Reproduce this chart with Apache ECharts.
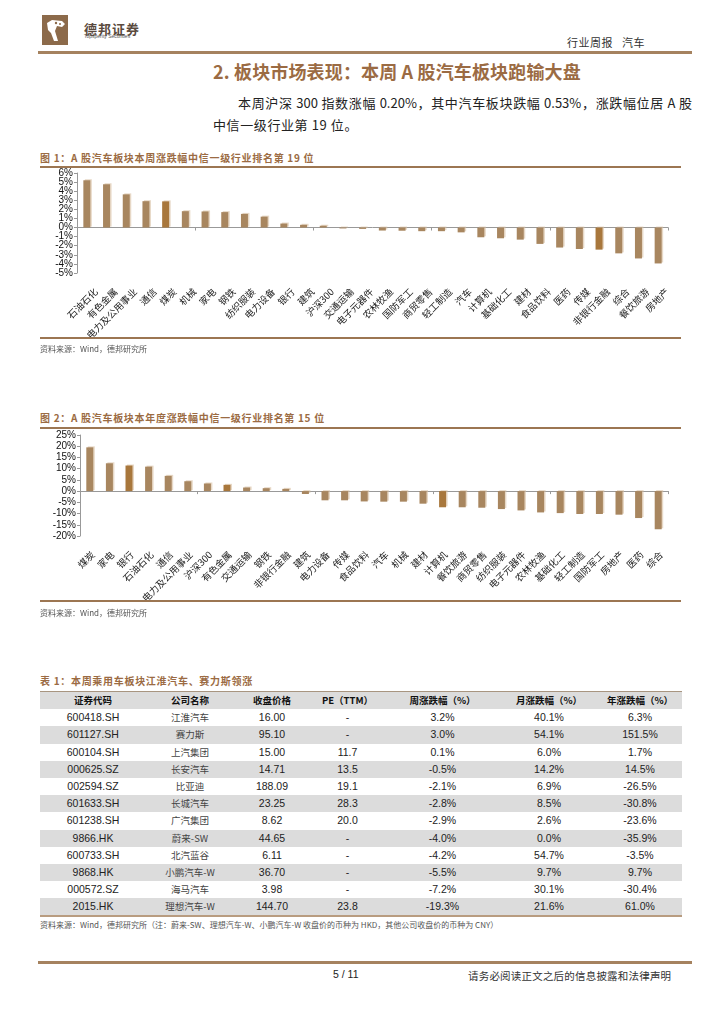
<!DOCTYPE html>
<html><head><meta charset="utf-8">
<script src="https://cdn.jsdelivr.net/npm/echarts@6/dist/echarts.min.js"></script>
<style>
body{margin:0;width:724px;height:1024px;background:#fff;position:relative;font-family:"Noto Sans CJK SC","Liberation Sans",sans-serif;overflow:hidden}
.abs{position:absolute}
.hline{position:absolute;height:2px;background:#9C7652}
.ftitle{position:absolute;left:40px;font-size:10px;font-weight:bold;color:#9B6B43;white-space:nowrap;letter-spacing:0.7px}
.src{position:absolute;left:40px;font-size:8px;color:#555;white-space:nowrap}
table{border-collapse:collapse;position:absolute;left:40px;top:691px;width:642px;table-layout:fixed}
td,th{height:17.2px;padding:0;text-align:center;font-size:10.5px;line-height:17.2px;font-family:"Liberation Sans",Arial,sans-serif;color:#222;white-space:nowrap}
th{font-family:"Noto Sans CJK SC",sans-serif;font-weight:bold;font-size:9.5px;color:#111}
tr.g td, tr.g th{background:#DCDCDC}
td.cn{font-family:"Noto Sans CJK SC",sans-serif;font-size:9.5px;color:#444}
.just{text-align:justify;text-align-last:justify;white-space:nowrap}
</style></head>
<body>
<!-- header -->
<svg class="abs" style="left:42px;top:15px" width="26" height="30" viewBox="0 0 26 30">
<rect width="26" height="30" fill="#8C6A4A"/>
<path d="M5 8 L10 5 L20 6 L23 9 L20 12 L15 11 L13 16 L16 26 L12 26 L9 18 L6 15 Z" fill="#fff"/>
<circle cx="14" cy="8" r="1.2" fill="#8C6A4A"/><circle cx="18" cy="9" r="1" fill="#8C6A4A"/>
</svg>
<div class="abs" style="left:84px;top:19px;font-size:13px;font-weight:bold;color:#5a4a3e;letter-spacing:1px">德邦证券</div>
<div class="abs" style="left:84px;top:33px;font-size:5px;color:#555;font-family:'Liberation Sans'">Topsperity Securities</div>
<div class="abs" style="left:567px;top:34px;font-size:11px;color:#333;letter-spacing:0.5px">行业周报&nbsp;&nbsp;&nbsp;汽车</div>
<div class="hline" style="left:38px;top:51px;width:654px;height:3px;background:#A5825F"></div>
<div class="abs" style="left:213px;top:58px;font-size:18px;font-weight:bold;color:#9B6B43;white-space:nowrap;letter-spacing:0.15px">2. 板块市场表现：本周 A 股汽车板块跑输大盘</div>
<div class="abs just" style="left:238px;top:93px;width:454px;font-size:13px;line-height:20px;color:#222">本周沪深 300 指数涨幅 0.20%，其中汽车板块跌幅 0.53%，涨跌幅位居 A 股</div>
<div class="abs" style="left:213px;top:115px;font-size:13px;line-height:20px;color:#222;letter-spacing:0.6px">中信一级行业第 19 位。</div>

<div class="ftitle" style="top:150px">图 1：A 股汽车板块本周涨跌幅中信一级行业排名第 19 位</div>
<div id="c1" class="abs" style="left:30px;top:160px;width:660px;height:190px"></div>
<div class="hline" style="left:40px;top:166px;width:641px"></div>
<div class="hline" style="left:40px;top:337px;width:641px"></div>
<div class="src" style="top:343px">资料来源：Wind，德邦研究所</div>

<div class="ftitle" style="top:410px">图 2：A 股汽车板块本年度涨跌幅中信一级行业排名第 15 位</div>
<div id="c2" class="abs" style="left:30px;top:425px;width:660px;height:190px"></div>
<div class="hline" style="left:40px;top:427px;width:641px"></div>
<div class="hline" style="left:40px;top:600px;width:641px"></div>
<div class="src" style="top:607px">资料来源：Wind，德邦研究所</div>

<div class="ftitle" style="top:673px">表 1：本周乘用车板块江淮汽车、赛力斯领涨</div>
<table id="tbl"></table>
<div class="hline" style="left:40px;top:915px;width:642px;height:1.5px;background:#B89C80"></div>
<div class="src" style="top:919px">资料来源：Wind，德邦研究所（注：蔚来-SW、理想汽车-W、小鹏汽车-W 收盘价的币种为 HKD，其他公司收盘价的币种为 CNY）</div>

<div class="hline" style="left:38px;top:961px;width:654px;height:2.5px;background:#A5825F"></div>
<div class="abs" style="left:333px;top:968px;font-size:10.5px;color:#222;font-family:'Liberation Sans'">5 / 11</div>
<div class="abs" style="left:468px;top:968px;font-size:10.5px;color:#333;letter-spacing:0.2px">请务必阅读正文之后的信息披露和法律声明</div>

<script>
// ---- data ----
const categories1 = ['石油石化','有色金属','电力及公用事业','通信','煤炭','机械','家电','钢铁','纺织服装','电力设备','银行','建筑','沪深300','交通运输','电子元器件','农林牧渔','国防军工','商贸零售','轻工制造','汽车','计算机','基础化工','建材','食品饮料','医药','传媒','非银行金融','综合','餐饮旅游','房地产'];
const values1 = [5.2,4.76,3.65,2.9,2.88,1.8,1.77,1.7,1.5,1.2,0.44,0.3,0.2,-0.1,-0.15,-0.33,-0.35,-0.4,-0.4,-0.53,-1.07,-1.18,-1.33,-1.8,-2.2,-2.36,-2.43,-2.84,-3.4,-3.95];
const highlight1 = ['煤炭','非银行金融'];
const yTicks1 = {min:-5,max:6,step:1};

const categories2 = ['煤炭','家电','银行','石油石化','通信','电力及公用事业','沪深300','有色金属','交通运输','钢铁','非银行金融','建筑','电力设备','传媒','食品饮料','汽车','机械','建材','计算机','餐饮旅游','商贸零售','纺织服装','电子元器件','农林牧渔','基础化工','轻工制造','国防军工','房地产','医药','综合'];
const values2 = [19.5,12.4,11.4,10.9,6.8,4.4,3.4,2.8,1.6,1.3,1.0,-1.3,-4.1,-4.1,-4.6,-4.7,-4.7,-5.6,-7.2,-7.2,-7.4,-8.0,-8.6,-9.5,-9.8,-10.2,-10.2,-10.5,-12.0,-17.0];
const highlight2 = ['银行','有色金属','计算机'];
const yTicks2 = {min:-20,max:25,step:5};

const tableHeader = ['证券代码','公司名称','收盘价格','PE（TTM）','周涨跌幅（%）','月涨跌幅（%）','年涨跌幅（%）'];
const codes = ['600418.SH','601127.SH','600104.SH','000625.SZ','002594.SZ','601633.SH','601238.SH','9866.HK','600733.SH','9868.HK','000572.SZ','2015.HK'];
const names = ['江淮汽车','赛力斯','上汽集团','长安汽车','比亚迪','长城汽车','广汽集团','蔚来-SW','北汽蓝谷','小鹏汽车-W','海马汽车','理想汽车-W'];
const closePrice = ['16.00','95.10','15.00','14.71','188.09','23.25','8.62','44.65','6.11','36.70','3.98','144.70'];
const peTTM = ['-','-','11.7','13.5','19.1','28.3','20.0','-','-','-','-','23.8'];
const weekChg = ['3.2%','3.0%','0.1%','-0.5%','-2.1%','-2.8%','-2.9%','-4.0%','-4.2%','-5.5%','-7.2%','-19.3%'];
const monthChg = ['40.1%','54.1%','6.0%','14.2%','6.9%','8.5%','2.6%','0.0%','54.7%','9.7%','30.1%','21.6%'];
const yearChg = ['6.3%','151.5%','1.7%','14.5%','-26.5%','-30.8%','-23.6%','-35.9%','-3.5%','9.7%','-30.4%','61.0%'];

// ---- table ----
(function(){
  const colW=[106,88,76,75,115,98,84];
  let h='<colgroup>'+colW.map(w=>'<col style="width:'+w+'px">').join('')+'</colgroup>';
  h+='<tr class="g" style="border-top:1.5px solid #A89580">'+tableHeader.map(t=>'<th>'+t+'</th>').join('')+'</tr>';
  for(let i=0;i<codes.length;i++){
    h+='<tr'+(i%2===1?' class="g"':'')+'><td>'+codes[i]+'</td><td class="cn">'+names[i]+'</td><td>'+closePrice[i]+'</td><td>'+peTTM[i]+'</td><td>'+weekChg[i]+'</td><td>'+monthChg[i]+'</td><td>'+yearChg[i]+'</td></tr>';
  }
  document.getElementById('tbl').innerHTML=h;
})();

// ---- charts ----
const BASE='#A8865F', HI='#A8773C';
function makeChart(id, cats, vals, hi, yt, grid, dx, margin){
  const c = echarts.init(document.getElementById(id), null, {renderer:'canvas'});
  const data = vals.map((v,i)=>({value:v,itemStyle:{color: hi.includes(cats[i])?HI:BASE}}));
  const g1 = Object.assign({containLabel:false, outerBoundsMode:'none'}, grid);
  const g2 = Object.assign({}, g1, {left: grid.left+dx});
  const yLab = (parity)=>({fontSize:10,color:'#111',fontFamily:'Liberation Sans',margin:4,
      showMinLabel:true,showMaxLabel:true,hideOverlap:false,
      formatter:(v)=>{const k=Math.round((v-yt.min)/yt.step);return (k%2===parity)? v+'%' : '';}});
  c.setOption({
    animation:false,
    grid:[g1, g2],
    xAxis:[
      {type:'category',gridIndex:0,data:cats,axisLine:{onZero:true,lineStyle:{color:'#999',width:1}},
       axisTick:{show:true,length:3,lineStyle:{color:'#999'}},axisLabel:{show:false},splitLine:{show:false}},
      {type:'category',gridIndex:1,data:cats,position:'bottom',axisLine:{show:false,onZero:false},axisTick:{show:false},
       axisLabel:{interval:0,rotate:45,fontSize:9.5,color:'#222',fontFamily:'Noto Sans CJK SC',margin:margin,
         hideOverlap:false,overflow:'none'}}
    ],
    yAxis:[
      {type:'value',gridIndex:0,min:yt.min,max:yt.max,interval:yt.step,position:'left',
       axisLine:{show:true,onZero:false,lineStyle:{color:'#999'}},axisTick:{show:true,length:3,lineStyle:{color:'#999'}},
       splitLine:{show:false},axisLabel:yLab(0)},
      {type:'value',gridIndex:0,min:yt.min,max:yt.max,interval:yt.step,position:'left',offset:0,
       axisLine:{show:false,onZero:false},axisTick:{show:false},splitLine:{show:false},axisLabel:yLab(1)},
      {type:'value',gridIndex:1,min:yt.min,max:yt.max,show:false}],
    series:[{type:'bar',xAxisIndex:0,yAxisIndex:0,data:data,barWidth:7,
      itemStyle:{shadowColor:'rgba(215,190,160,0.6)',shadowOffsetX:1.5,shadowOffsetY:-1,shadowBlur:0}}]
  });
}
makeChart('c1',categories1,values1,highlight1,yTicks1,{left:47,width:591,top:13,height:100},9,17);
makeChart('c2',categories2,values2,highlight2,yTicks2,{left:50,width:588,top:10,height:101},3,17);
</script>
</body></html>
